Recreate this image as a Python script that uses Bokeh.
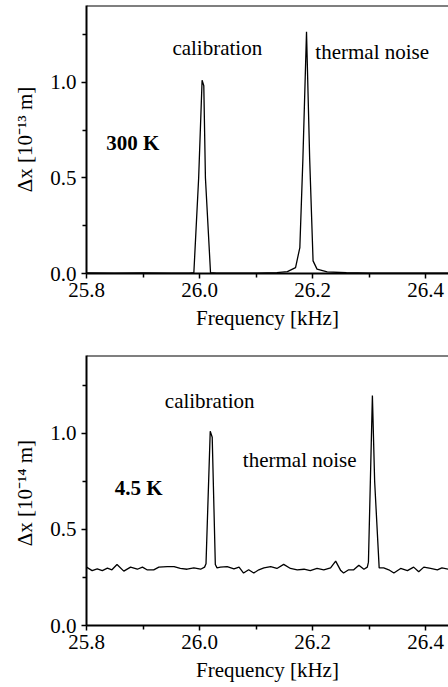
from bokeh.plotting import figure
from bokeh.layouts import gridplot
from bokeh.models import Range1d, FixedTicker, Span, Label
from bokeh.embed import file_html
from bokeh.resources import INLINE

# ---------------- data ----------------
top_freq = [25.800, 25.850, 25.900, 25.950, 25.982, 25.990, 25.9985, 26.0046, 26.0076,
            26.0105, 26.0195, 26.030, 26.060, 26.102, 26.137, 26.1555, 26.170, 26.1776,
            26.183, 26.1894, 26.195, 26.201, 26.208, 26.226, 26.260, 26.300, 26.350, 26.441]
top_dx = [0.003, 0.002, 0.003, 0.002, 0.002, 0.004, 0.50, 1.012, 0.983,
          0.50, 0.004, 0.002, 0.002, 0.002, 0.005, 0.010, 0.031, 0.136,
          0.60, 1.265, 0.60, 0.066, 0.023, 0.008, 0.004, 0.002, 0.002, 0.002]

bot_freq = [25.800, 25.810, 25.819, 25.828, 25.837, 25.845, 25.854, 25.866, 25.878, 25.890,
            25.899, 25.907, 25.919, 25.928, 25.943, 25.955, 25.966, 25.978, 25.990, 26.002,
            26.009, 26.0115, 26.019, 26.0225, 26.028, 26.031, 26.037, 26.049, 26.061, 26.070,
            26.078, 26.087, 26.096, 26.105, 26.114, 26.126, 26.137, 26.149, 26.161, 26.173,
            26.185, 26.196, 26.208, 26.220, 26.232, 26.241, 26.250, 26.255, 26.264, 26.273,
            26.282, 26.291, 26.297, 26.299, 26.306, 26.310, 26.318, 26.326, 26.335, 26.344,
            26.356, 26.368, 26.379, 26.388, 26.397, 26.409, 26.421, 26.429, 26.441]
bot_dx = [0.304, 0.286, 0.295, 0.286, 0.299, 0.290, 0.318, 0.283, 0.304, 0.293,
          0.304, 0.290, 0.290, 0.304, 0.307, 0.307, 0.297, 0.293, 0.300, 0.293,
          0.304, 0.321, 1.012, 0.980, 0.318, 0.300, 0.304, 0.307, 0.295, 0.304,
          0.273, 0.290, 0.273, 0.290, 0.300, 0.307, 0.297, 0.318, 0.297, 0.290,
          0.293, 0.286, 0.297, 0.290, 0.300, 0.335, 0.286, 0.273, 0.290, 0.290,
          0.314, 0.293, 0.304, 0.330, 1.198, 0.750, 0.300, 0.300, 0.290, 0.273,
          0.297, 0.286, 0.304, 0.280, 0.304, 0.297, 0.290, 0.300, 0.293]

x_ticks = [25.8, 26.0, 26.2, 26.4]
x_tick_labels = ["25.8", "26.0", "26.2", "26.4"]
x_minor = [25.9, 26.1, 26.3]
y_ticks = [0.0, 0.5, 1.0]
y_tick_labels = ["0.0", "0.5", "1.0"]
y_minor = [0.25, 0.75, 1.25]

FONT = "Liberation Serif"
SIZE = "21px"


def make_panel(freq, dx, height, top_border, bottom_border, y_end, ylabel, temp_label,
               temp_pos, calib_pos, therm_pos):
    p = figure(width=448, height=height, output_backend="svg", toolbar_location=None,
               x_range=Range1d(25.8, 26.4407), y_range=Range1d(0, y_end),
               min_border_left=86, min_border_right=0, min_border_top=top_border,
               min_border_bottom=bottom_border)
    p.outline_line_color = None
    p.xgrid.visible = False
    p.ygrid.visible = False

    p.line(freq, dx, line_color="black", line_width=1.3)

    p.add_layout(Span(location=y_end, dimension="width", line_color="black", line_width=2))

    p.xaxis.ticker = FixedTicker(ticks=x_ticks, minor_ticks=x_minor)
    p.xaxis.major_label_overrides = dict(zip(x_ticks, x_tick_labels))
    p.yaxis.ticker = FixedTicker(ticks=y_ticks, minor_ticks=y_minor)
    p.yaxis.major_label_overrides = dict(zip(y_ticks, y_tick_labels))

    for ax in (p.xaxis[0], p.yaxis[0]):
        ax.axis_line_width = 2
        ax.axis_line_color = "black"
        ax.major_tick_in = 0
        ax.major_tick_out = 5
        ax.minor_tick_in = 0
        ax.minor_tick_out = 4
        ax.major_tick_line_width = 1.5
        ax.minor_tick_line_width = 1.5
        ax.major_label_text_font = FONT
        ax.major_label_text_font_size = SIZE
        ax.major_label_text_color = "black"
        ax.axis_label_text_font = FONT
        ax.axis_label_text_font_size = SIZE
        ax.axis_label_text_font_style = "normal"
        ax.axis_label_text_color = "black"
    p.xaxis.major_label_standoff = 4
    p.yaxis.major_label_standoff = 5
    p.xaxis.axis_label_standoff = 6
    p.yaxis.axis_label_standoff = 10
    p.xaxis.axis_label = "Frequency [kHz]"
    p.yaxis.axis_label = ylabel

    p.add_layout(Label(x=temp_pos[0], y=temp_pos[1], text=temp_label, text_font=FONT,
                       text_font_size=SIZE, text_font_style="bold", text_color="black"))
    p.add_layout(Label(x=calib_pos[0], y=calib_pos[1], text="calibration", text_font=FONT,
                       text_font_size=SIZE, text_color="black"))
    p.add_layout(Label(x=therm_pos[0], y=therm_pos[1], text="thermal noise", text_font=FONT,
                       text_font_size=SIZE, text_color="black"))
    return p


p1 = make_panel(top_freq, top_dx, 340, 5, 67, 1.403, "Δx [10⁻¹³ m]", "300 K",
                (25.835, 0.621), (25.952, 1.117), (26.205, 1.096))
p2 = make_panel(bot_freq, bot_dx, 347, 15, 62, 1.406, "Δx  [10⁻¹⁴ m]", "4.5 K",
                (25.850, 0.651), (25.9386, 1.106), (26.0767, 0.799))

layout = gridplot([[p1], [p2]], toolbar_location=None)
open("out.html", "w").write(file_html(layout, INLINE))
